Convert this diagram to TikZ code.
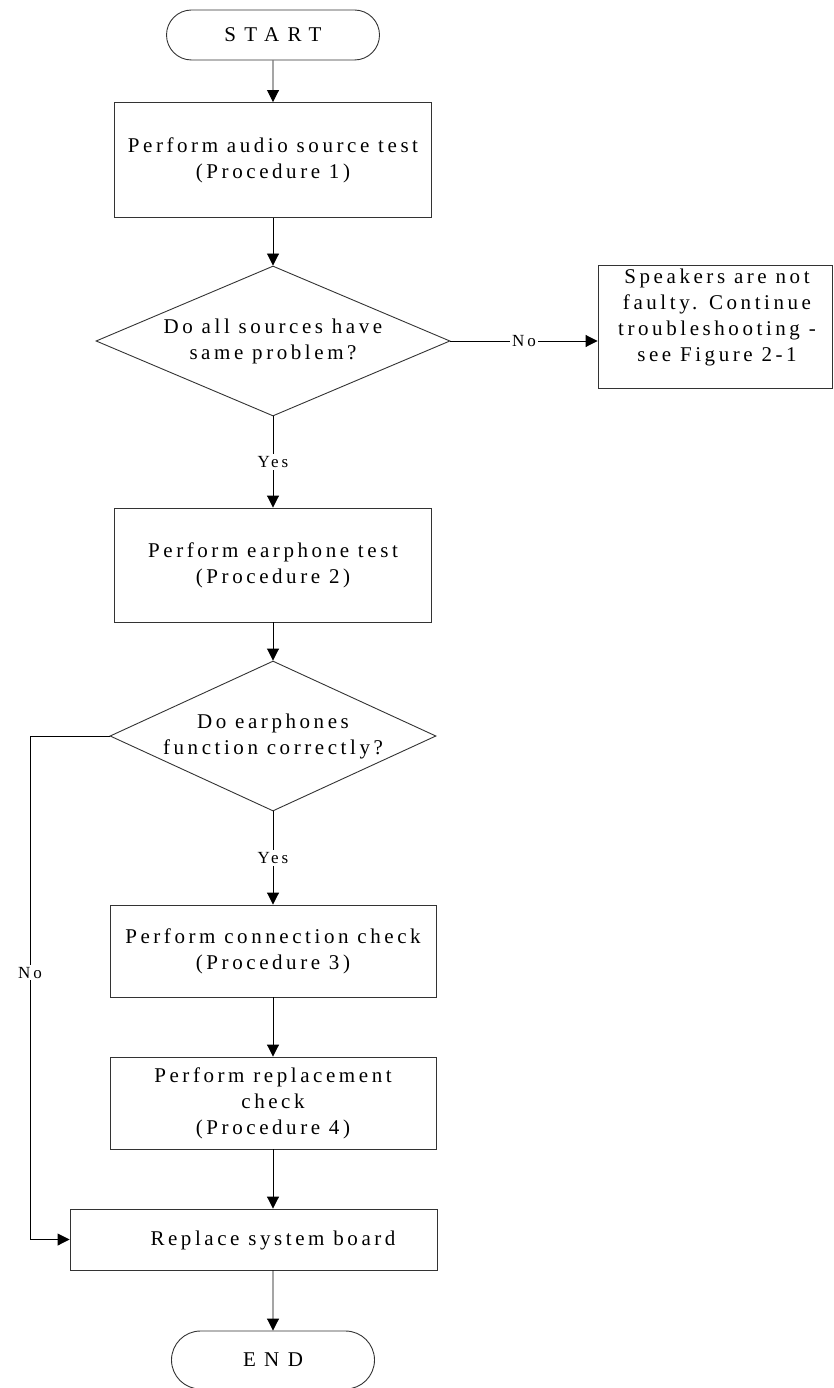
\documentclass[tikz,border=0pt]{standalone}
\usepackage{fontspec}
\setmainfont{Liberation Serif}[LetterSpace=17]
\usetikzlibrary{shapes.geometric,shapes.misc,arrows.meta}
\begin{document}
\begin{tikzpicture}[x=1pt,y=-1pt,
  every node/.style={font=\fontsize{21}{26}\selectfont, align=center, inner sep=0pt},
  proc/.style={draw=black!80, line width=0.9pt, rectangle},
  term/.style={draw=black!80, line width=0.9pt, rounded rectangle, font=\fontsize{21}{26}\selectfont\addfontfeature{LetterSpace=40}},
  dec/.style={draw=black!80, line width=0.9pt, diamond, aspect=2.3},
  lbl/.style={font=\fontsize{17}{20}\selectfont, fill=white, inner sep=2pt},
  conn/.style={line width=0.9pt, -{Triangle[length=12pt,width=12pt]}},
  plain/.style={line width=0.9pt}]
\useasboundingbox (0,0) rectangle (833,1388);
\node[term, minimum width=213pt, minimum height=50pt] (start) at (273,35) {START};
\node[proc, minimum width=317pt, minimum height=115pt] (b1) at (273,160) {Perform audio source test\\(Procedure 1)};
\node[dec, minimum width=354pt, minimum height=150pt] (d1) at (273,341) {Do all sources have\\same problem?};
\node[proc, minimum width=234pt, minimum height=123pt] (side) at (715,326.5) {};
\node (st) at (717,317) {Speakers are not\\faulty. Continue\\troubleshooting -\\see Figure 2-1};
\node[proc, minimum width=317pt, minimum height=114pt] (b2) at (273,565) {Perform earphone test\\(Procedure 2)};
\node[dec, minimum width=326pt, minimum height=150pt] (d2) at (273,736) {Do earphones\\function correctly?};
\node[proc, minimum width=326pt, minimum height=92pt] (b3) at (273,951) {Perform connection check\\(Procedure 3)};
\node[proc, minimum width=326pt, minimum height=92pt] (b4) at (273,1103) {Perform replacement\\check\\(Procedure 4)};
\node[proc, minimum width=367pt, minimum height=61pt] (b5) at (253.5,1239.5) {};
\node (t5) at (273,1240) {Replace system board};
\node[term, minimum width=203pt, minimum height=58pt] (end) at (273,1360) {END};
\coordinate (c1) at (30,736);
\draw[conn] (start) -- (b1);
\draw[conn] (b1) -- (d1);
\draw[conn] (d1.east) -- node[lbl]{No} (d1.east -| side.west);
\draw[conn] (d1.south) -- node[lbl]{Yes} (b2.north);
\draw[conn] (b2) -- (d2);
\draw[conn] (d2.south) -- node[lbl, pos=0.5]{Yes} (b3.north);
\draw[conn] (b3) -- (b4);
\draw[conn] (b4.south) -- (b4.south |- b5.north);
\draw[conn] (b5.south -| b4.south) -- (end);
\draw[conn] (d2.west) -- (c1) -- node[lbl, pos=0.47]{No} (c1 |- b5.west) -- (b5.west);
\end{tikzpicture}
\end{document}
